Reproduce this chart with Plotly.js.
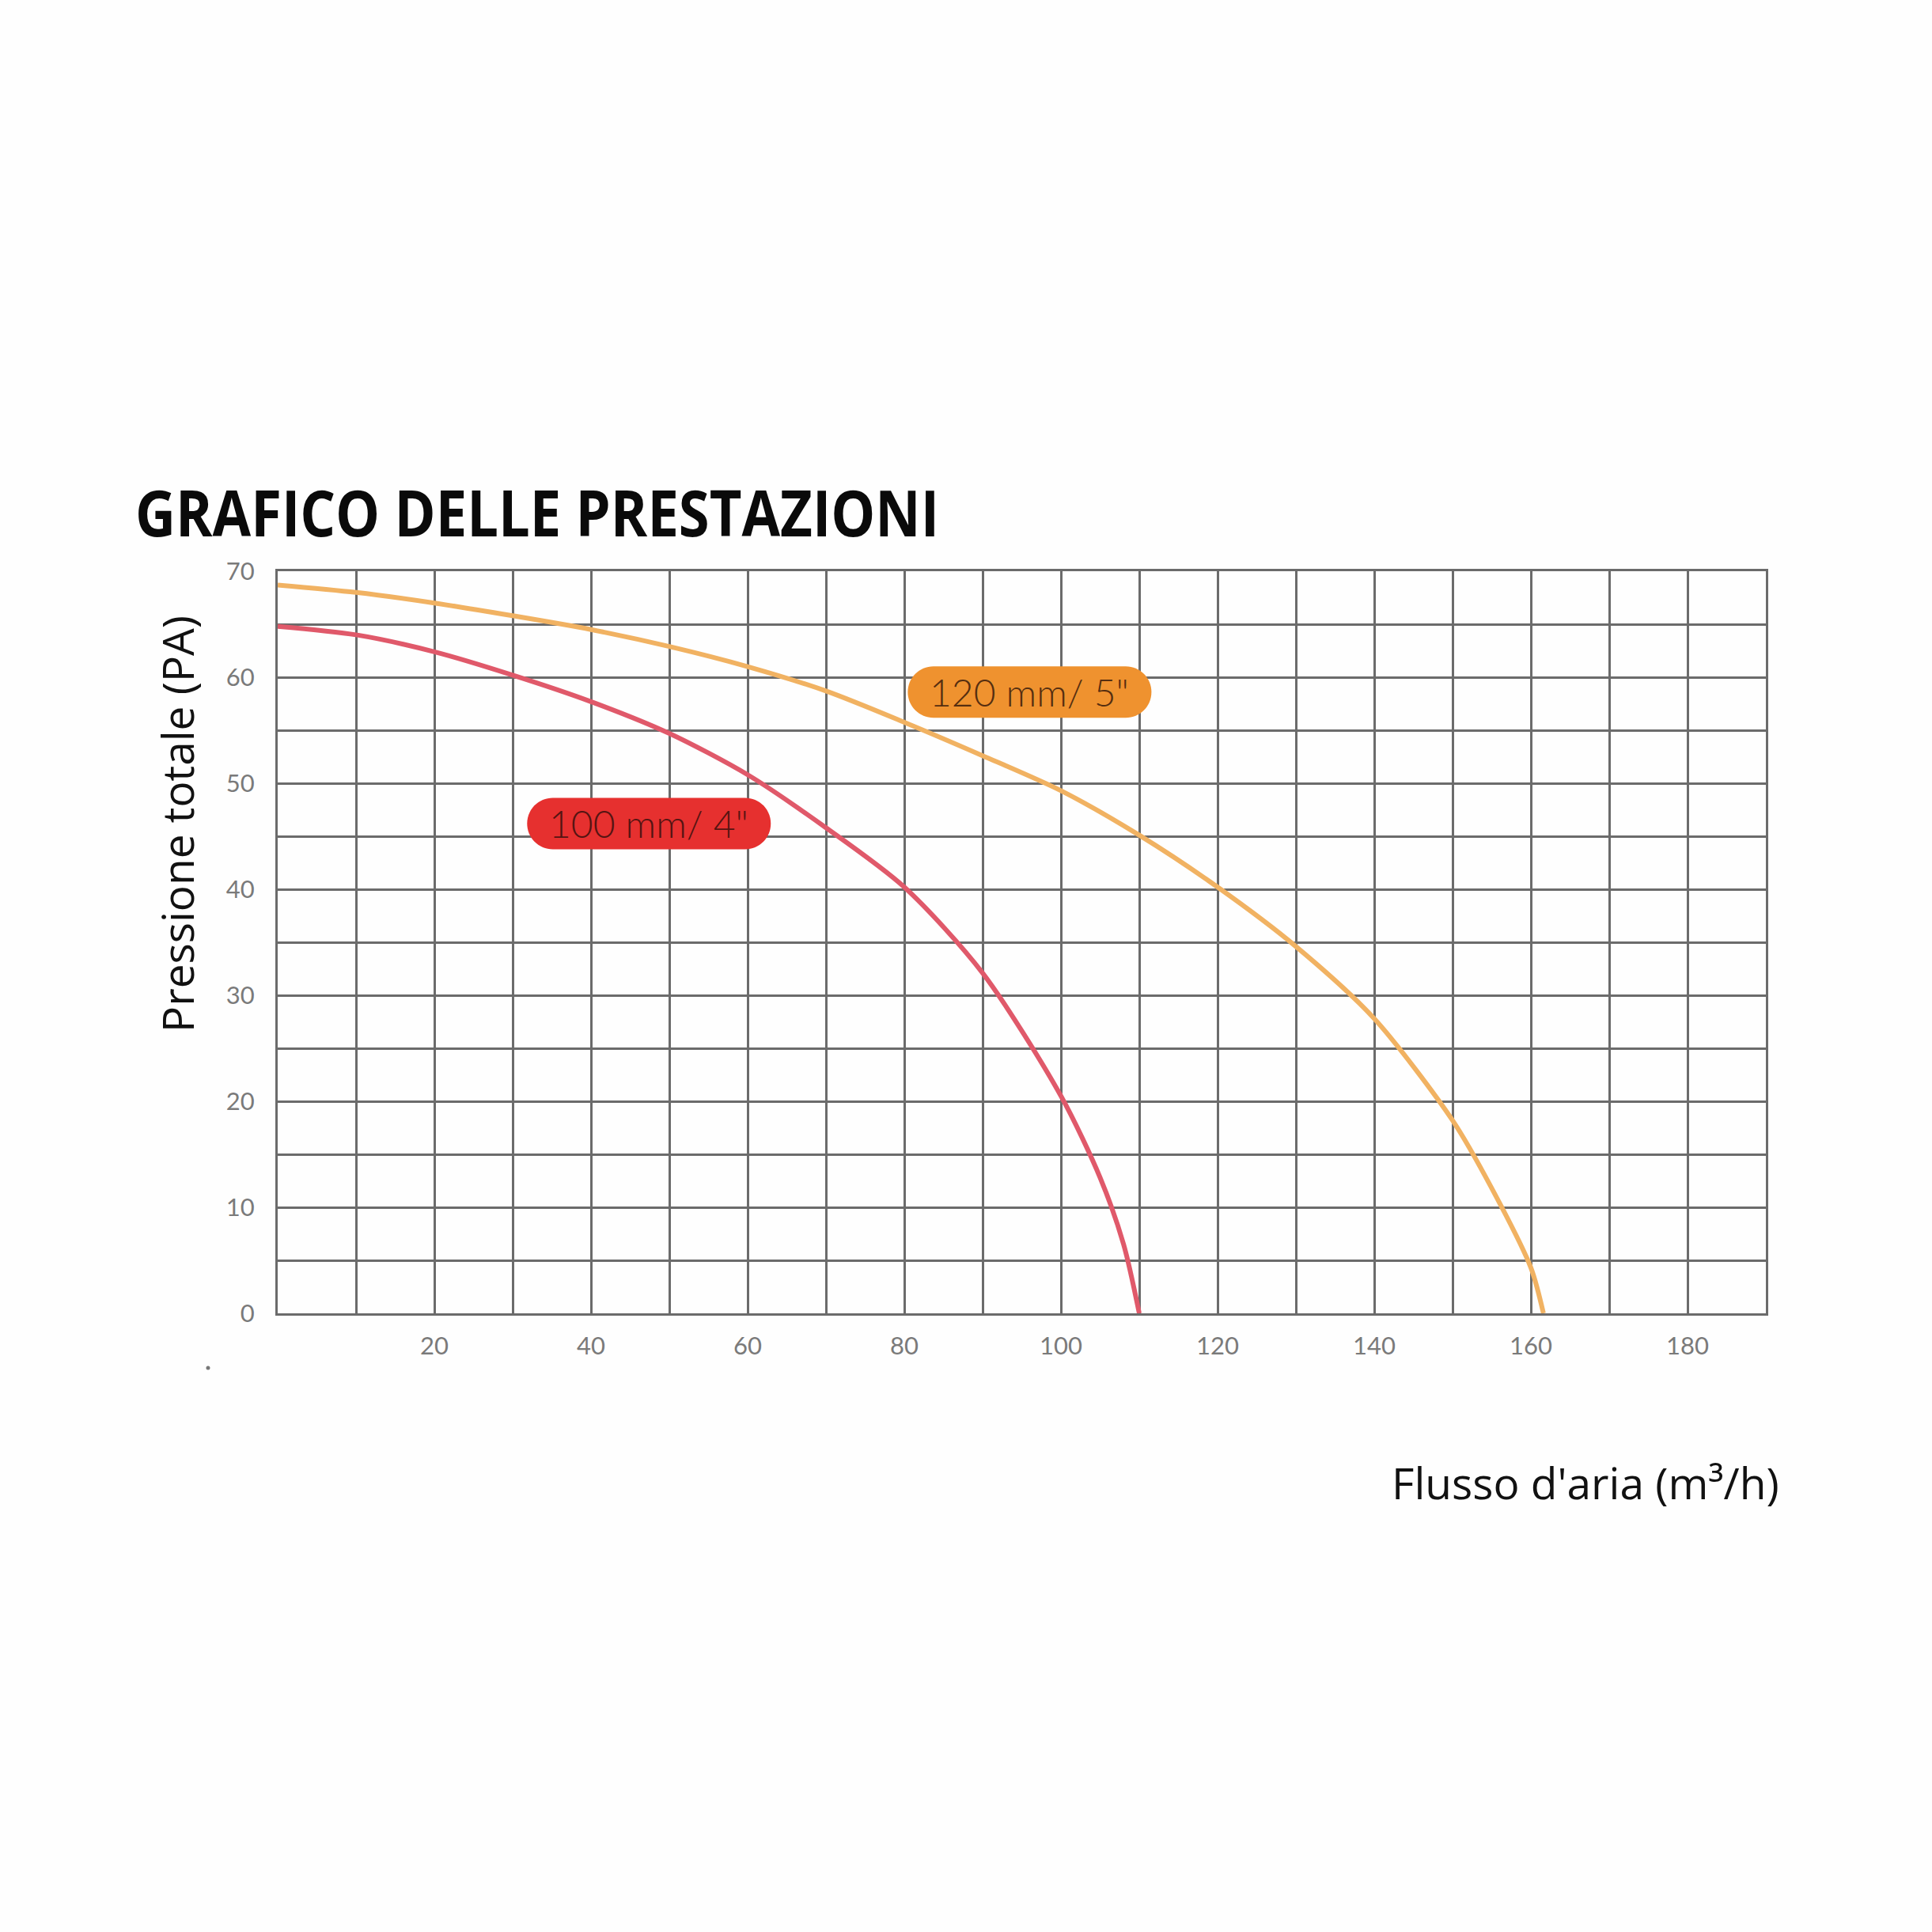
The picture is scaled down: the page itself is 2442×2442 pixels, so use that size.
<!DOCTYPE html>
<html>
<head>
<meta charset="utf-8">
<script src="https://cdn.plot.ly/plotly-3.0.1.min.js"></script>
<style>html,body{margin:0;padding:0;background:#fefefe;}#chart{width:2442px;height:2442px;}</style>
</head>
<body>
<div id="chart"></div>
<script>
// Data
const flow100 = [0, 10, 20, 30, 40, 50, 60, 70, 80, 90, 100, 105, 108, 110];
const pres100 = [64.8, 64.0, 62.4, 60.2, 57.7, 54.7, 50.8, 45.8, 40.2, 32.1, 20.5, 12.8, 6.5, 0];
const flow120 = [0, 10, 20, 30, 40, 50, 60, 70, 80, 90, 100, 110, 120, 130, 140, 150, 155, 160, 161.6];
const pres120 = [68.7, 68.0, 67.0, 65.8, 64.5, 62.9, 61.0, 58.7, 55.75, 52.6, 49.3, 45.1, 40.2, 34.6, 27.8, 18.2, 11.8, 4.3, 0];
const seriesNames = ["100 mm/ 4\"", "120 mm/ 5\""];
const xTickVals = [20, 40, 60, 80, 100, 120, 140, 160, 180];
const yTickVals = [0, 10, 20, 30, 40, 50, 60, 70];

const gridColor = "#6b6b6b";
const red = "#e0596a", orange = "#f1b262";

const pill = (hw, hh) => {
  const r = hh, k = 0.5523 * r, s = hw - r;
  return `M ${-s} ${-hh} L ${s} ${-hh} C ${s + k} ${-hh} ${hw} ${-k} ${hw} 0 C ${hw} ${k} ${s + k} ${hh} ${s} ${hh} ` +
         `L ${-s} ${hh} C ${-s - k} ${hh} ${-hw} ${k} ${-hw} 0 C ${-hw} ${-k} ${-s - k} ${-hh} ${-s} ${-hh} Z`;
};

const traces = [
  {x: flow100, y: pres100, name: seriesNames[0], mode: "lines", line: {color: red, width: 6, shape: "spline", smoothing: 0.8}},
  {x: flow120, y: pres120, name: seriesNames[1], mode: "lines", line: {color: orange, width: 6, shape: "spline", smoothing: 0.8}}
];

const tickFont = {family: "Lato, 'Open Sans', sans-serif", size: 31, color: "#7a7a7a"};
const labelFont = {family: "Lato, 'Open Sans', sans-serif", size: 48, weight: 300};
const axisFont = {family: "'Open Sans', 'Liberation Sans', sans-serif", size: 55, color: "#111111"};

const layout = {
  width: 2442, height: 2442,
  paper_bgcolor: "#fefefe", plot_bgcolor: "#fefefe",
  margin: {l: 351, r: 210, t: 722, b: 782, pad: 0},
  showlegend: false,
  title: {
    text: "GRAFICO DELLE PRESTAZIONI",
    x: 171 / 2442, xanchor: "left", xref: "container",
    y: 1 - 650 / 2442, yanchor: "middle", yref: "container",
    font: {family: "'Open Sans', 'Liberation Sans', sans-serif", size: 80, weight: 700, stretch: "condensed", color: "#0a0a0a"}
  },
  xaxis: {
    range: [0, 190], tickvals: xTickVals, ticktext: xTickVals.map(String),
    showgrid: true, gridcolor: gridColor, gridwidth: 3,
    minor: {dtick: 10, tick0: 0, showgrid: true, gridcolor: gridColor, gridwidth: 3, ticks: ""},
    showline: true, mirror: true, linecolor: gridColor, linewidth: 3,
    zeroline: false, ticks: "", tickfont: tickFont, ticklabelstandoff: 12, fixedrange: true
  },
  yaxis: {
    range: [0, 70], tickvals: yTickVals, ticktext: yTickVals.map(String),
    showgrid: true, gridcolor: gridColor, gridwidth: 3,
    minor: {dtick: 5, tick0: 0, showgrid: true, gridcolor: gridColor, gridwidth: 3, ticks: ""},
    showline: true, mirror: true, linecolor: gridColor, linewidth: 3,
    zeroline: false, ticks: "", tickfont: tickFont, ticklabelstandoff: 20, fixedrange: true
  },
  shapes: [
    {type: "path", xref: "x", yref: "y", xsizemode: "pixel", ysizemode: "pixel",
     xanchor: 47.4, yanchor: 46.2, path: pill(154, 32.5), fillcolor: "#e6302f", line: {width: 0}, layer: "above"},
    {type: "path", xref: "x", yref: "y", xsizemode: "pixel", ysizemode: "pixel",
     xanchor: 96.0, yanchor: 58.6, path: pill(154, 32.5), fillcolor: "#ef922f", line: {width: 0}, layer: "above"},
    {type: "circle", xref: "paper", yref: "paper", xsizemode: "pixel", ysizemode: "pixel",
     xanchor: -0.0468, yanchor: -0.0736, x0: -2.5, x1: 2.5, y0: -2.5, y1: 2.5,
     fillcolor: "#777777", line: {width: 0}, layer: "above"}
  ],
  annotations: [
    {text: seriesNames[0], x: 47.4, y: 46.2, xref: "x", yref: "y", showarrow: false,
     xanchor: "center", yanchor: "middle", font: Object.assign({color: "#551412"}, labelFont)},
    {text: seriesNames[1], x: 96.0, y: 58.6, xref: "x", yref: "y", showarrow: false,
     xanchor: "center", yanchor: "middle", font: Object.assign({color: "#552e10"}, labelFont)},
    {text: "Pressione totale (PA)", x: -0.0675, y: 0.659, xref: "paper", yref: "paper",
     showarrow: false, textangle: -90, xanchor: "center", yanchor: "middle", font: axisFont},
    {text: "Flusso d'aria (m³/h)", x: (2251 - 351) / 1881, y: (1660 - 1873) / 938, xref: "paper", yref: "paper",
     showarrow: false, xanchor: "right", yanchor: "middle", font: axisFont}
  ]
};

Plotly.newPlot("chart", traces, layout, {displayModeBar: false, staticPlot: true}).then(() => {
  // the reference title uses a condensed bold face: fit the text run to its width
  const t = document.querySelector("#chart .gtitle");
  if (t) {
    t.setAttribute("textLength", "1016");
    t.setAttribute("lengthAdjust", "spacingAndGlyphs");
  }
});
</script>
</body>
</html>
